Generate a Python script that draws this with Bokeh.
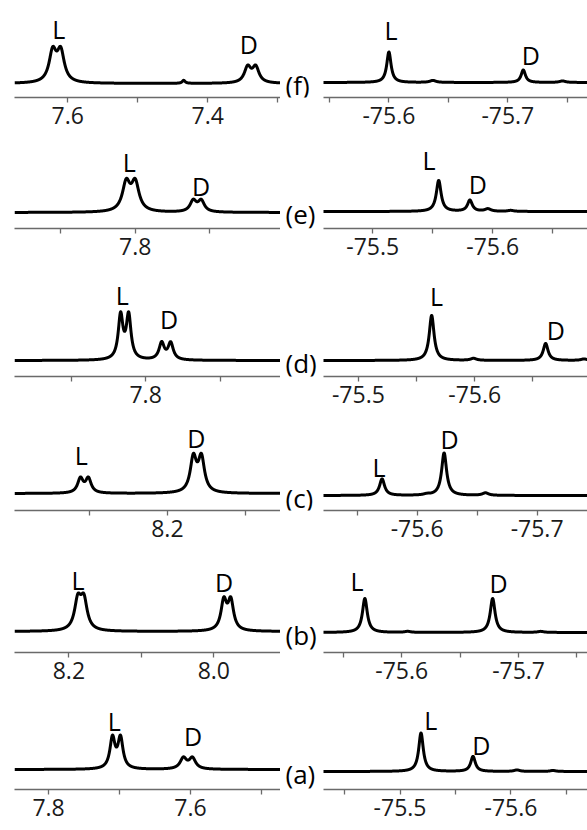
import numpy as np
from bokeh.plotting import figure
from bokeh.layouts import column, row
from bokeh.models import Range1d, FixedTicker, PrintfTickFormatter
from bokeh.core.properties import value
from bokeh.embed import file_html
from bokeh.resources import INLINE

# ---------------- data ----------------
panel_tags = ["(f)", "(e)", "(d)", "(c)", "(b)", "(a)"]
peak_names = ["L", "D"]

# left column (1H, ppm): visible axis extents
h_axis_start = [7.676, 7.962, 7.976, 8.396, 8.275, 7.848]
h_axis_end = [7.296, 7.605, 7.619, 8.055, 7.908, 7.473]
h_major_ticks = [7.0, 7.2, 7.4, 7.6, 7.8, 8.0, 8.2, 8.4, 8.6]
h_minor_ticks = [7.1, 7.3, 7.5, 7.7, 7.9, 8.1, 8.3, 8.5]

# left column peak lists (position ppm, intensity a.u., half width ppm)
h_peak_ppm = [
    [7.6214, 7.6100, 7.4343, 7.3429, 7.3314],
    [7.8120, 7.8000, 7.7221, 7.7114],
    [7.8336, 7.8228, 7.7785, 7.7664],
    [8.3115, 8.3013, 8.1667, 8.1564],
    [8.1876, 8.1793, 7.9862, 7.9766],
    [7.7099, 7.6986, 7.6099, 7.5972],
]
h_peak_int = [
    [30.0, 30.0, 3.0, 15.4, 15.4],
    [28.0, 28.0, 11.0, 11.0],
    [43.7, 43.7, 16.7, 16.7],
    [14.3, 14.3, 34.0, 34.0],
    [29.0, 29.0, 29.0, 29.0],
    [30.5, 30.5, 10.8, 10.8],
]
h_peak_hw = [
    [0.0062, 0.0062, 0.0025, 0.0057, 0.0057],
    [0.0062, 0.0062, 0.0051, 0.0051],
    [0.0038, 0.0038, 0.0042, 0.0042],
    [0.0043, 0.0043, 0.0048, 0.0048],
    [0.0055, 0.0055, 0.0047, 0.0047],
    [0.0043, 0.0043, 0.0055, 0.0055],
]
# L / D label anchors (ppm, a.u.)
h_label_ppm = [
    [7.6129, 7.3414],
    [7.8080, 7.7117],
    [7.8313, 7.7685],
    [8.3103, 8.1628],
    [8.1873, 7.9858],
    [7.7075, 7.5961],
]
h_label_int = [[55, 40], [51, 27], [66, 42], [39, 56], [52, 50], [49, 34]]

# right column (19F, ppm): visible axis extents
f_axis_start = [-75.545, -75.459, -75.470, -75.522, -75.533, -75.431]
f_axis_end = [-75.767, -75.679, -75.697, -75.742, -75.759, -75.669]
f_major_ticks = [-75.3, -75.4, -75.5, -75.6, -75.7, -75.8, -75.9]
f_minor_ticks = [-75.35, -75.45, -75.55, -75.65, -75.75, -75.85]

f_peak_ppm = [
    [-75.6000, -75.6370, -75.7130, -75.7460],
    [-75.5550, -75.5810, -75.5960, -75.6150],
    [-75.5630, -75.5990, -75.6610, -75.6940],
    [-75.5708, -75.6080, -75.6225, -75.6570],
    [-75.5684, -75.6050, -75.6778, -75.7190],
    [-75.5189, -75.5658, -75.6054, -75.6378],
]
f_peak_int = [
    [30.5, 2.0, 12.5, 1.5],
    [31.0, 11.2, 2.5, 1.0],
    [45.0, 2.0, 17.0, 1.5],
    [16.5, 1.0, 42.5, 2.5],
    [34.0, 1.0, 34.0, 1.0],
    [38.5, 15.0, 1.5, 1.0],
]
f_peak_hw = [
    [0.0022, 0.0030, 0.0022, 0.0030],
    [0.0024, 0.0024, 0.0030, 0.0030],
    [0.0025, 0.0030, 0.0025, 0.0030],
    [0.0025, 0.0030, 0.0025, 0.0030],
    [0.0025, 0.0030, 0.0025, 0.0030],
    [0.0025, 0.0025, 0.0030, 0.0030],
]
f_label_ppm = [
    [-75.6017, -75.7193],
    [-75.5470, -75.5875],
    [-75.5671, -75.6698],
    [-75.5682, -75.6271],
    [-75.5618, -75.6829],
    [-75.5277, -75.5732],
]
f_label_int = [[53, 28], [52, 28], [65, 31], [29, 57], [52, 50], [52, 27]]

# ---------------- layout (pixels) ----------------
ROW_H = [142, 133, 145, 138, 142, 130]
FRAME_H = [97, 86, 101, 90, 94, 89]
GAP_L = [14, 16, 16, 17, 21, 20]
GAP_R = [15, 17, 16, 15, 20, 18]
LEFT_W, LEFT_PAD = 280, 14
RIGHT_W = 307
R_AXIS_OFF = 43      # axis starts 43 px into the right frame

AX_COL = "#6a6a6a"
FONT = "Open Sans"


def spectrum(x, pos, hgt, hw):
    y = np.zeros_like(x)
    for p0, h, w in zip(pos, hgt, hw):
        y = y + h / (1.0 + ((x - p0) / w) ** 2)
    return y


def style_axis(p, major, minor):
    ax = p.xaxis[0]
    ax.ticker = FixedTicker(ticks=major, minor_ticks=minor)
    ax.formatter = PrintfTickFormatter(format="%.1f")
    ax.axis_line_color = AX_COL
    ax.axis_line_width = 1.3
    ax.major_tick_line_color = AX_COL
    ax.minor_tick_line_color = AX_COL
    ax.major_tick_line_width = 1.3
    ax.minor_tick_line_width = 1.3
    ax.major_tick_out = 5
    ax.major_tick_in = 0
    ax.minor_tick_out = 5
    ax.minor_tick_in = 0
    ax.major_label_text_font = FONT
    ax.major_label_text_font_size = "23px"
    ax.major_label_text_color = "#1a1a1a"
    ax.major_label_standoff = 4


def base_fig(width, height, frame_h, pad_left, xr, gap):
    p = figure(width=width, height=height, x_range=xr,
               y_range=Range1d(-gap, frame_h - gap),
               output_backend="svg", toolbar_location=None,
               y_axis_location=None,
               min_border_left=pad_left, min_border_right=0,
               min_border_top=0, min_border_bottom=height - frame_h)
    p.grid.visible = False
    p.outline_line_color = None
    p.background_fill_color = "white"
    p.border_fill_color = "white"
    return p


rows = []
for i in range(6):
    # ---- left (1H) ----
    xl = np.linspace(h_axis_start[i], h_axis_end[i], 2500)
    yl = spectrum(xl, h_peak_ppm[i], h_peak_int[i], h_peak_hw[i])
    pl = base_fig(LEFT_W, ROW_H[i], FRAME_H[i], LEFT_PAD,
                  Range1d(h_axis_start[i], h_axis_end[i]), GAP_L[i])
    pl.line(xl, yl, line_color="black", line_width=3, line_join="round")
    pl.text(x=h_label_ppm[i], y=h_label_int[i], text=peak_names,
            text_font=value(FONT), text_font_size="25px",
            text_align="center", text_baseline="middle", text_color="black")
    style_axis(pl, h_major_ticks, h_minor_ticks)

    # ---- right (19F) ----
    span = RIGHT_W - R_AXIS_OFF
    scale = span / (f_axis_start[i] - f_axis_end[i])
    xr0 = f_axis_start[i] + R_AXIS_OFF / scale
    xr1 = f_axis_end[i]
    xf = np.linspace(f_axis_start[i], xr1, 2500)
    yf = spectrum(xf, f_peak_ppm[i], f_peak_int[i], f_peak_hw[i])
    pr = base_fig(RIGHT_W, ROW_H[i], FRAME_H[i], 0, Range1d(xr0, xr1), GAP_R[i])
    pr.line(xf, yf, line_color="black", line_width=3, line_join="round")
    pr.text(x=f_label_ppm[i], y=f_label_int[i], text=peak_names,
            text_font=value(FONT), text_font_size="25px",
            text_align="center", text_baseline="middle", text_color="black")
    pr.text(x=[xr0], y=[0], text=[panel_tags[i]], x_offset=5, y_offset=2,
            text_font=value(FONT), text_font_size="26px",
            text_align="left", text_baseline="middle", text_color="black")
    lo, hi = xr1, f_axis_start[i]
    style_axis(pr,
               [t for t in f_major_ticks if lo <= t <= hi],
               [t for t in f_minor_ticks if lo <= t <= hi])
    pr.xaxis[0].bounds = (lo, hi)

    rows.append(row(pl, pr, spacing=0))

layout = column(*rows, spacing=0)

open("out.html", "w").write(file_html(layout, INLINE))
